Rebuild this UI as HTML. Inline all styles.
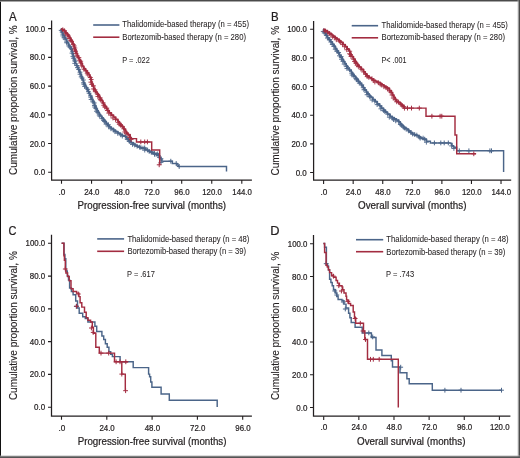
<!DOCTYPE html>
<html><head><meta charset="utf-8"><style>
html,body{margin:0;padding:0;background:#fff;}
svg{display:block;will-change:transform;}
text{font-family:"Liberation Sans", sans-serif;fill:#231f20;stroke:#231f20;stroke-width:0.22px;}
.lg{stroke-width:0.06px;}
.yl{stroke-width:0.12px;}
</style></head><body>
<svg width="520" height="458" viewBox="0 0 520 458">
<rect x="0" y="0" width="520" height="458" fill="#fff"/>

<g id="pA"><path d="M51.60 20.60 V180.00 H251.90" fill="none" stroke="#231f20" stroke-width="1.25"/>
<text x="34.10" y="175.30" font-size="8.5" textLength="11.10" lengthAdjust="spacingAndGlyphs">0.0</text>
<text x="29.85" y="146.57" font-size="8.5" textLength="15.35" lengthAdjust="spacingAndGlyphs">20.0</text>
<text x="29.85" y="117.84" font-size="8.5" textLength="15.35" lengthAdjust="spacingAndGlyphs">40.0</text>
<text x="29.85" y="89.11" font-size="8.5" textLength="15.35" lengthAdjust="spacingAndGlyphs">60.0</text>
<text x="29.85" y="60.38" font-size="8.5" textLength="15.35" lengthAdjust="spacingAndGlyphs">80.0</text>
<text x="25.60" y="31.65" font-size="8.5" textLength="19.60" lengthAdjust="spacingAndGlyphs">100.0</text>
<text x="58.38" y="194.60" font-size="8.5" textLength="6.85" lengthAdjust="spacingAndGlyphs">.0</text>
<text x="84.17" y="194.60" font-size="8.5" textLength="15.35" lengthAdjust="spacingAndGlyphs">24.0</text>
<text x="114.22" y="194.60" font-size="8.5" textLength="15.35" lengthAdjust="spacingAndGlyphs">48.0</text>
<text x="144.28" y="194.60" font-size="8.5" textLength="15.35" lengthAdjust="spacingAndGlyphs">72.0</text>
<text x="174.32" y="194.60" font-size="8.5" textLength="15.35" lengthAdjust="spacingAndGlyphs">96.0</text>
<text x="202.25" y="194.60" font-size="8.5" textLength="19.60" lengthAdjust="spacingAndGlyphs">120.0</text>
<text x="232.30" y="194.60" font-size="8.5" textLength="19.60" lengthAdjust="spacingAndGlyphs">144.0</text>
<path d="M48.10 172.30 H51.60 M48.10 143.57 H51.60 M48.10 114.84 H51.60 M48.10 86.11 H51.60 M48.10 57.38 H51.60 M48.10 28.65 H51.60 M61.50 180.00 V183.80 M91.55 180.00 V183.80 M121.60 180.00 V183.80 M151.65 180.00 V183.80 M181.70 180.00 V183.80 M211.75 180.00 V183.80 M241.80 180.00 V183.80" fill="none" stroke="#231f20" stroke-width="1.1"/>
<text x="9.10" y="21.00" font-size="12" textLength="7.70" lengthAdjust="spacingAndGlyphs">A</text>
<text x="77.60" y="208.60" font-size="10.2" textLength="148.40" lengthAdjust="spacingAndGlyphs">Progression-free survival (months)</text>
<text x="0" y="0" font-size="10.2" transform="translate(17.20,175.00) rotate(-90)" class="yl" textLength="149.70" lengthAdjust="spacingAndGlyphs">Cumulative proportion survival, %</text>
<path d="M93.20 25.00 H119.40" stroke="#4b6589" stroke-width="1.6"/>
<path d="M93.20 37.20 H119.40" stroke="#a32c40" stroke-width="1.6"/>
<text x="122.30" y="27.30" font-size="8.4" textLength="126.70" lengthAdjust="spacingAndGlyphs" class="lg">Thalidomide-based therapy (n = 455)</text>
<text x="122.30" y="40.00" font-size="8.4" textLength="123.70" lengthAdjust="spacingAndGlyphs" class="lg">Bortezomib-based therapy (n = 280)</text>
<text x="122.20" y="63.00" font-size="8.6" textLength="27.60" lengthAdjust="spacingAndGlyphs" class="lg">P = .022</text>
<path d="M162.30 161.20L172.30 161.20L172.30 163.50L176.90 163.50L176.90 165.00L178.50 165.00L178.50 166.50L226.50 166.50L226.50 171.50" fill="none" stroke="#4b6589" stroke-width="1.45" stroke-linecap="butt" stroke-linejoin="miter"/>
<path d="M61.50 28.60H61.95V30.45H62.40V32.30M62.40 32.30H63.25V33.85H64.10V35.40M64.10 35.40H65.20V37.35H66.30V39.30M66.30 39.30H67.15V41.05H68.00V42.80M68.00 42.80H69.10V44.75H70.20V46.70M70.20 46.70H71.30V48.90H72.40V51.10M72.40 51.10H73.05V53.25H73.70V55.40M73.70 55.40H74.35V57.60H75.00V59.80M75.00 59.80H75.45V61.55H75.90V63.30M75.90 63.30H77.05V65.15H78.20V67.00M78.20 67.00H79.10V69.20H80.00V71.40H80.90V73.60M80.90 73.60H81.63V75.77H82.37V77.93H83.10V80.10M83.10 80.10H84.00V81.93H84.90V83.77H85.80V85.60M85.80 85.60H86.73V87.40H87.67V89.20H88.60V91.00M88.60 91.00H89.50V92.83H90.40V94.67H91.30V96.50M91.30 96.50H92.27V98.60H93.23V100.70H94.20V102.80M94.20 102.80H95.05V104.67H95.90V106.55H96.75V108.42H97.60V110.30M97.60 110.30H98.70V112.10H99.80V113.90H100.90V115.70M100.90 115.70H102.37V117.53H103.83V119.37H105.30V121.20M105.30 121.20H106.77V123.03H108.23V124.87H109.70V126.70M109.70 126.70H111.85V128.30H114.00V129.90M114.00 129.90H116.20V131.30H118.40V132.70M118.40 132.70H120.60V134.05H122.80V135.40M122.80 135.40H125.50V136.50M125.50 136.50H127.10V138.50M127.10 138.50H129.30V140.40H131.50V142.30M131.50 142.30H133.70V143.75H135.90V145.20M135.90 145.20H138.10V146.30H140.30V147.40M140.30 147.40H142.20V147.65H144.10V147.90M144.10 147.90H146.00V149.00H147.90V150.10M147.90 150.10H150.10V151.20H152.30V152.30M152.30 152.30H154.50V153.10H156.70V153.90M156.70 153.90H159.40V155.60M159.40 155.60H160.20V157.20H161.00V158.80M161.00 158.80H162.30V161.20" fill="none" stroke="#4b6589" stroke-width="1.9" stroke-linejoin="round" transform="translate(-0.5 0.5)"/>
<path d="M59.27 29.89h4.80M61.67 27.49v4.80M60.24 31.62h4.80M62.64 29.22v4.80M60.91 33.64h4.80M63.31 31.24v4.80M60.99 35.41h4.80M63.39 33.01v4.80M62.06 37.24h4.80M64.46 34.84v4.80M63.21 38.65h4.80M65.61 36.25v4.80M64.63 41.57h4.80M67.03 39.17v4.80M65.00 42.36h4.80M67.40 39.96v4.80M66.90 45.47h4.80M69.30 43.07v4.80M67.92 46.53h4.80M70.32 44.13v4.80M69.66 48.17h4.80M72.06 45.77v4.80M70.57 50.76h4.80M72.97 48.36v4.80M70.08 52.64h4.80M72.48 50.24v4.80M70.99 55.91h4.80M73.39 53.51v4.80M71.44 57.73h4.80M73.84 55.33v4.80M72.82 59.60h4.80M75.22 57.20v4.80M73.13 60.85h4.80M75.53 58.45v4.80M72.80 62.83h4.80M75.20 60.43v4.80M74.94 65.03h4.80M77.34 62.63v4.80M75.50 67.14h4.80M77.90 64.74v4.80M76.63 68.88h4.80M79.03 66.48v4.80M78.07 71.72h4.80M80.47 69.32v4.80M78.09 73.72h4.80M80.49 71.32v4.80M79.27 76.37h4.80M81.67 73.97v4.80M80.33 77.59h4.80M82.73 75.19v4.80M81.47 79.49h4.80M83.87 77.09v4.80M81.47 82.34h4.80M83.87 79.94v4.80M81.94 83.75h4.80M84.34 81.35v4.80M82.66 85.87h4.80M85.06 83.47v4.80M84.76 87.52h4.80M87.16 85.12v4.80M85.87 88.90h4.80M88.27 86.50v4.80M86.51 91.15h4.80M88.91 88.75v4.80M87.23 92.76h4.80M89.63 90.36v4.80M88.54 95.38h4.80M90.94 92.98v4.80M88.86 96.76h4.80M91.26 94.36v4.80M89.16 98.92h4.80M91.56 96.52v4.80M91.07 101.49h4.80M93.47 99.09v4.80M92.32 102.46h4.80M94.72 100.06v4.80M92.47 104.94h4.80M94.87 102.54v4.80M92.74 106.49h4.80M95.14 104.09v4.80M93.82 107.81h4.80M96.22 105.41v4.80M94.49 110.73h4.80M96.89 108.33v4.80M95.71 111.70h4.80M98.11 109.30v4.80M97.23 114.49h4.80M99.63 112.09v4.80M97.83 115.62h4.80M100.23 113.22v4.80M100.05 118.15h4.80M102.45 115.75v4.80M101.94 119.95h4.80M104.34 117.55v4.80M102.55 121.06h4.80M104.95 118.66v4.80M104.14 123.65h4.80M106.54 121.25v4.80M106.57 124.31h4.80M108.97 121.91v4.80M106.78 126.27h4.80M109.18 123.87v4.80M109.02 128.28h4.80M111.42 125.88v4.80M111.74 129.52h4.80M114.14 127.12v4.80M113.01 131.17h4.80M115.41 128.77v4.80M115.79 132.81h4.80M118.19 130.41v4.80M118.92 134.35h4.80M121.32 131.95v4.80M120.42 135.59h4.80M122.82 133.19v4.80M123.38 135.79h4.80M125.78 133.39v4.80M125.34 138.95h4.80M127.74 136.55v4.80M127.50 140.88h4.80M129.90 138.48v4.80M128.93 142.14h4.80M131.33 139.74v4.80M130.67 143.96h4.80M133.07 141.56v4.80M132.80 144.51h4.80M135.20 142.11v4.80M135.23 145.76h4.80M137.63 143.36v4.80M137.64 146.68h4.80M140.04 144.28v4.80M139.00 147.09h4.80M141.40 144.69v4.80M141.06 147.68h4.80M143.46 145.28v4.80M142.84 149.60h4.80M145.24 147.20v4.80M145.68 149.54h4.80M148.08 147.14v4.80M147.30 150.96h4.80M149.70 148.56v4.80M149.68 151.70h4.80M152.08 149.30v4.80M152.66 153.89h4.80M155.06 151.49v4.80M154.25 153.87h4.80M156.65 151.47v4.80M156.34 154.96h4.80M158.74 152.56v4.80M157.55 156.82h4.80M159.95 154.42v4.80M159.13 158.26h4.80M161.53 155.86v4.80M159.14 161.92h4.80M161.54 159.52v4.80" fill="none" stroke="#4b6589" stroke-width="1.0" opacity="0.9" transform="translate(-0.5 0.5)"/>
<path d="M142.30 147.90h4.8M144.70 145.50v4.8M148.80 152.00h4.8M151.20 149.60v4.8M152.10 153.50h4.8M154.50 151.10v4.8M155.30 153.90h4.8M157.70 151.50v4.8M168.40 161.20h4.8M170.80 158.80v4.8M173.80 163.50h4.8M176.20 161.10v4.8M176.80 166.50h4.8M179.20 164.10v4.8" fill="none" stroke="#4b6589" stroke-width="1.0"/>
<path d="M131.50 138.60L136.50 138.60L136.50 141.90L151.70 141.90L151.70 149.90L159.70 149.90L159.70 164.80" fill="none" stroke="#a32c40" stroke-width="1.45" stroke-linecap="butt" stroke-linejoin="miter"/>
<path d="M61.50 28.60H63.25V29.80H65.00V31.00M65.00 31.00H66.30V32.50H67.60V34.00M67.60 34.00H68.90V35.75H70.20V37.50M70.20 37.50H71.30V39.50H72.40V41.50M72.40 41.50H73.30V43.25H74.20V45.00M74.20 45.00H74.85V47.15H75.50V49.30M75.50 49.30H76.35V51.40H77.20V53.50M77.20 53.50H77.93V55.33H78.67V57.17H79.40V59.00M79.40 59.00H80.50V61.00H81.60V63.00M81.60 63.00H82.80V65.90M82.80 65.90H84.30V68.10H85.80V70.30M85.80 70.30H87.45V72.20H89.10V74.10M89.10 74.10H90.20V76.55H91.30V79.00M91.30 79.00H91.85V81.20H92.40V83.40M92.40 83.40H93.30V85.57H94.20V87.73H95.10V89.90M95.10 89.90H96.37V91.73H97.63V93.57H98.90V95.40M98.90 95.40H99.93V97.10H100.97V98.80H102.00V100.50M102.00 100.50H103.10V102.30H104.20V104.10H105.30V105.90M105.30 105.90H106.77V108.10H108.23V110.30H109.70V112.50M109.70 112.50H111.85V114.65H114.00V116.80M114.00 116.80H116.20V119.00H118.40V121.20M118.40 121.20H119.87V123.03H121.33V124.87H122.80V126.70M122.80 126.70H124.40V128.85H126.00V131.00M126.00 131.00H127.15V132.65H128.30V134.30M128.30 134.30H130.50V137.00M130.50 137.00H131.50V138.60" fill="none" stroke="#a32c40" stroke-width="1.9" stroke-linejoin="round" transform="translate(-0.5 0.5)"/>
<path d="M60.90 29.23h4.80M63.30 26.83v4.80M62.67 30.24h4.80M65.07 27.84v4.80M63.94 33.27h4.80M66.34 30.87v4.80M65.78 34.31h4.80M68.18 31.91v4.80M66.12 35.54h4.80M68.52 33.14v4.80M67.27 37.94h4.80M69.67 35.54v4.80M68.95 39.95h4.80M71.35 37.55v4.80M69.73 41.06h4.80M72.13 38.66v4.80M71.40 44.03h4.80M73.80 41.63v4.80M72.36 45.49h4.80M74.76 43.09v4.80M72.96 47.53h4.80M75.36 45.13v4.80M72.66 49.33h4.80M75.06 46.93v4.80M73.72 50.65h4.80M76.12 48.25v4.80M74.04 53.15h4.80M76.44 50.75v4.80M75.15 55.64h4.80M77.55 53.24v4.80M77.00 57.08h4.80M79.40 54.68v4.80M77.70 59.78h4.80M80.10 57.38v4.80M78.83 60.78h4.80M81.23 58.38v4.80M78.75 62.56h4.80M81.15 60.16v4.80M79.91 65.43h4.80M82.31 63.03v4.80M82.10 68.74h4.80M84.50 66.34v4.80M83.94 70.27h4.80M86.34 67.87v4.80M85.29 72.68h4.80M87.69 70.28v4.80M86.04 74.36h4.80M88.44 71.96v4.80M88.46 77.00h4.80M90.86 74.60v4.80M89.30 78.96h4.80M91.70 76.56v4.80M88.94 81.66h4.80M91.34 79.26v4.80M89.73 83.88h4.80M92.13 81.48v4.80M91.65 85.40h4.80M94.05 83.00v4.80M91.64 88.45h4.80M94.04 86.05v4.80M93.06 89.37h4.80M95.46 86.97v4.80M93.37 91.18h4.80M95.77 88.78v4.80M95.88 94.06h4.80M98.28 91.66v4.80M95.93 95.92h4.80M98.33 93.52v4.80M98.30 97.35h4.80M100.70 94.95v4.80M98.33 98.88h4.80M100.73 96.48v4.80M99.01 99.72h4.80M101.41 97.32v4.80M101.45 102.54h4.80M103.85 100.14v4.80M101.84 104.79h4.80M104.24 102.39v4.80M102.79 106.49h4.80M105.19 104.09v4.80M104.89 107.64h4.80M107.29 105.24v4.80M105.44 109.97h4.80M107.84 107.57v4.80M106.88 112.64h4.80M109.28 110.24v4.80M109.06 114.52h4.80M111.46 112.12v4.80M111.01 117.46h4.80M113.41 115.06v4.80M113.57 118.93h4.80M115.97 116.53v4.80M116.13 121.85h4.80M118.53 119.45v4.80M117.34 123.70h4.80M119.74 121.30v4.80M118.94 124.92h4.80M121.34 122.52v4.80M120.44 125.93h4.80M122.84 123.53v4.80M121.90 128.34h4.80M124.30 125.94v4.80M122.81 131.48h4.80M125.21 129.08v4.80M124.23 132.61h4.80M126.63 130.21v4.80M126.26 134.39h4.80M128.66 131.99v4.80M127.82 137.03h4.80M130.22 134.63v4.80M129.19 139.05h4.80M131.59 136.65v4.80" fill="none" stroke="#a32c40" stroke-width="1.0" opacity="0.9" transform="translate(-0.5 0.5)"/>
<path d="M138.40 141.90h4.8M140.80 139.50v4.8M142.30 141.90h4.8M144.70 139.50v4.8M145.00 141.90h4.8M147.40 139.50v4.8M156.80 164.80h4.8M159.20 162.40v4.8" fill="none" stroke="#a32c40" stroke-width="1.0"/></g>
<g id="pB"><path d="M313.60 21.10 V180.10 H511.20" fill="none" stroke="#231f20" stroke-width="1.25"/>
<text x="295.70" y="175.50" font-size="8.5" textLength="11.10" lengthAdjust="spacingAndGlyphs">0.0</text>
<text x="291.45" y="146.84" font-size="8.5" textLength="15.35" lengthAdjust="spacingAndGlyphs">20.0</text>
<text x="291.45" y="118.18" font-size="8.5" textLength="15.35" lengthAdjust="spacingAndGlyphs">40.0</text>
<text x="291.45" y="89.52" font-size="8.5" textLength="15.35" lengthAdjust="spacingAndGlyphs">60.0</text>
<text x="291.45" y="60.86" font-size="8.5" textLength="15.35" lengthAdjust="spacingAndGlyphs">80.0</text>
<text x="287.20" y="32.20" font-size="8.5" textLength="19.60" lengthAdjust="spacingAndGlyphs">100.0</text>
<text x="320.48" y="194.60" font-size="8.5" textLength="6.85" lengthAdjust="spacingAndGlyphs">.0</text>
<text x="345.80" y="194.60" font-size="8.5" textLength="15.35" lengthAdjust="spacingAndGlyphs">24.0</text>
<text x="375.37" y="194.60" font-size="8.5" textLength="15.35" lengthAdjust="spacingAndGlyphs">48.0</text>
<text x="404.94" y="194.60" font-size="8.5" textLength="15.35" lengthAdjust="spacingAndGlyphs">72.0</text>
<text x="434.50" y="194.60" font-size="8.5" textLength="15.35" lengthAdjust="spacingAndGlyphs">96.0</text>
<text x="461.95" y="194.60" font-size="8.5" textLength="19.60" lengthAdjust="spacingAndGlyphs">120.0</text>
<text x="491.52" y="194.60" font-size="8.5" textLength="19.60" lengthAdjust="spacingAndGlyphs">144.0</text>
<path d="M310.10 172.50 H313.60 M310.10 143.84 H313.60 M310.10 115.18 H313.60 M310.10 86.52 H313.60 M310.10 57.86 H313.60 M310.10 29.20 H313.60 M323.60 180.10 V183.90 M353.17 180.10 V183.90 M382.74 180.10 V183.90 M412.31 180.10 V183.90 M441.88 180.10 V183.90 M471.45 180.10 V183.90 M501.02 180.10 V183.90" fill="none" stroke="#231f20" stroke-width="1.1"/>
<text x="270.90" y="20.80" font-size="12" textLength="7.64" lengthAdjust="spacingAndGlyphs">B</text>
<text x="358.10" y="208.70" font-size="10.2" textLength="108.30" lengthAdjust="spacingAndGlyphs">Overall survival (months)</text>
<text x="0" y="0" font-size="10.2" transform="translate(279.40,175.50) rotate(-90)" class="yl" textLength="149.60" lengthAdjust="spacingAndGlyphs">Cumulative proportion survival, %</text>
<path d="M351.70 25.70 H378.10" stroke="#4b6589" stroke-width="1.6"/>
<path d="M351.70 37.80 H378.10" stroke="#a32c40" stroke-width="1.6"/>
<text x="381.60" y="28.20" font-size="8.4" textLength="126.30" lengthAdjust="spacingAndGlyphs" class="lg">Thalidomide-based therapy (n = 455)</text>
<text x="381.60" y="40.30" font-size="8.4" textLength="123.40" lengthAdjust="spacingAndGlyphs" class="lg">Bortezomib-based therapy (n = 280)</text>
<text x="381.50" y="63.40" font-size="8.6" textLength="24.90" lengthAdjust="spacingAndGlyphs" class="lg">P< .001</text>
<path d="M426.90 141.20L430.40 141.20L430.40 142.90L450.60 142.90M454.10 147.20L456.70 147.20L456.70 150.80L503.60 150.80L503.60 172.00" fill="none" stroke="#4b6589" stroke-width="1.45" stroke-linecap="butt" stroke-linejoin="miter"/>
<path d="M323.60 29.00H324.35V30.85H325.10V32.70M325.10 32.70H326.45V34.90H327.80V37.10M327.80 37.10H329.45V39.30H331.10V41.50M331.10 41.50H332.75V43.65H334.40V45.80M334.40 45.80H335.75V48.00H337.10V50.20M337.10 50.20H338.45V52.40H339.80V54.60M339.80 54.60H341.20V56.75H342.60V58.90M342.60 58.90H343.95V61.10H345.30V63.30M345.30 63.30H346.65V65.50H348.00V67.70M348.00 67.70H349.80V69.85H351.60V72.00M351.60 72.00H353.03V73.83H354.47V75.67H355.90V77.50M355.90 77.50H357.37V79.30H358.83V81.10H360.30V82.90M360.30 82.90H361.95V85.10H363.60V87.30M363.60 87.30H365.20V89.50H366.80V91.70M366.80 91.70H368.27V93.43H369.73V95.17H371.20V96.90M371.20 96.90H373.40V99.10H375.60V101.30M375.60 101.30H377.75V103.45H379.90V105.60M379.90 105.60H381.95V107.65H384.00V109.70M384.00 109.70H385.95V111.75H387.90V113.80M387.90 113.80H390.50V116.00M390.50 116.00H392.63V117.27H394.77V118.53H396.90V119.80M396.90 119.80H399.20V121.50M399.20 121.50H400.73V123.33H402.27V125.17H403.80V127.00M403.80 127.00H405.55V128.00H407.30V129.00M407.30 129.00H409.23V130.67H411.17V132.33H413.10V134.00M413.10 134.00H415.40V134.70H417.70V135.40M417.70 135.40H419.45V136.55H421.20V137.70M421.20 137.70H422.90V138.25H424.60V138.80M424.60 138.80H426.90V141.20M450.60 142.90H452.30V145.40M452.30 145.40H454.10V147.20" fill="none" stroke="#4b6589" stroke-width="1.9" stroke-linejoin="round" transform="translate(-0.5 0.5)"/>
<path d="M321.32 30.95h4.80M323.72 28.55v4.80M322.30 32.34h4.80M324.70 29.94v4.80M324.49 34.91h4.80M326.89 32.51v4.80M325.50 37.52h4.80M327.90 35.12v4.80M327.71 39.21h4.80M330.11 36.81v4.80M328.88 41.51h4.80M331.28 39.11v4.80M330.37 43.96h4.80M332.77 41.56v4.80M331.92 45.85h4.80M334.32 43.45v4.80M333.31 48.71h4.80M335.71 46.31v4.80M335.02 50.80h4.80M337.42 48.40v4.80M336.76 52.02h4.80M339.16 49.62v4.80M337.50 55.31h4.80M339.90 52.91v4.80M339.34 56.17h4.80M341.74 53.77v4.80M339.59 58.81h4.80M341.99 56.41v4.80M340.87 60.69h4.80M343.27 58.29v4.80M342.22 63.57h4.80M344.62 61.17v4.80M344.70 66.14h4.80M347.10 63.74v4.80M345.05 68.05h4.80M347.45 65.65v4.80M347.66 69.28h4.80M350.06 66.88v4.80M349.81 72.75h4.80M352.21 70.35v4.80M350.18 74.56h4.80M352.58 72.16v4.80M351.90 75.65h4.80M354.30 73.25v4.80M354.28 78.03h4.80M356.68 75.63v4.80M354.43 79.19h4.80M356.83 76.79v4.80M356.46 80.84h4.80M358.86 78.44v4.80M357.41 82.61h4.80M359.81 80.21v4.80M359.91 84.33h4.80M362.31 81.93v4.80M361.29 87.20h4.80M363.69 84.80v4.80M362.03 89.23h4.80M364.43 86.83v4.80M364.60 91.72h4.80M367.00 89.32v4.80M365.17 94.21h4.80M367.57 91.81v4.80M367.79 95.92h4.80M370.19 93.52v4.80M368.17 96.52h4.80M370.57 94.12v4.80M370.26 99.55h4.80M372.66 97.15v4.80M372.83 100.71h4.80M375.23 98.31v4.80M375.23 104.11h4.80M377.63 101.71v4.80M378.01 105.21h4.80M380.41 102.81v4.80M378.99 108.32h4.80M381.39 105.92v4.80M381.71 110.02h4.80M384.11 107.62v4.80M382.89 111.04h4.80M385.29 108.64v4.80M385.80 113.68h4.80M388.20 111.28v4.80M387.42 116.70h4.80M389.82 114.30v4.80M390.45 117.75h4.80M392.85 115.35v4.80M391.70 119.10h4.80M394.10 116.70v4.80M393.81 120.38h4.80M396.21 117.98v4.80M396.73 121.24h4.80M399.13 118.84v4.80M398.42 124.02h4.80M400.82 121.62v4.80M399.50 124.57h4.80M401.90 122.17v4.80M401.44 126.58h4.80M403.84 124.18v4.80M402.53 127.46h4.80M404.93 125.06v4.80M404.18 128.52h4.80M406.58 126.12v4.80M406.53 130.35h4.80M408.93 127.95v4.80M409.18 132.00h4.80M411.58 129.60v4.80M410.70 133.48h4.80M413.10 131.08v4.80M412.76 133.93h4.80M415.16 131.53v4.80M414.90 134.62h4.80M417.30 132.22v4.80M417.42 136.63h4.80M419.82 134.23v4.80M418.30 137.66h4.80M420.70 135.26v4.80M421.20 137.62h4.80M423.60 135.22v4.80M422.71 138.69h4.80M425.11 136.29v4.80M424.49 141.74h4.80M426.89 139.34v4.80M449.73 145.41h4.80M452.13 143.01v4.80M452.00 147.97h4.80M454.40 145.57v4.80" fill="none" stroke="#4b6589" stroke-width="1.0" opacity="0.9" transform="translate(-0.5 0.5)"/>
<path d="M432.00 142.90h4.8M434.40 140.50v4.8M438.40 142.90h4.8M440.80 140.50v4.8M441.80 142.90h4.8M444.20 140.50v4.8M445.90 142.90h4.8M448.30 140.50v4.8M456.90 150.80h4.8M459.30 148.40v4.8M466.50 150.80h4.8M468.90 148.40v4.8M487.50 150.80h4.8M489.90 148.40v4.8M489.10 150.80h4.8M491.50 148.40v4.8" fill="none" stroke="#4b6589" stroke-width="1.0"/>
<path d="M404.60 108.10L426.00 108.10L426.00 116.20L455.00 116.20L455.00 134.90L456.70 134.90L456.70 153.80L476.00 153.80" fill="none" stroke="#a32c40" stroke-width="1.45" stroke-linecap="butt" stroke-linejoin="miter"/>
<path d="M323.60 29.00H325.70V30.30H327.80V31.60M327.80 31.60H330.00V33.25H332.20V34.90M332.20 34.90H333.97V36.17H335.73V37.43H337.50V38.70M337.50 38.70H339.40V40.35H341.30V42.00M341.30 42.00H343.50V44.15H345.70V46.30M345.70 46.30H347.60V48.50H349.50V50.70M349.50 50.70H350.43V52.53H351.37V54.37H352.30V56.20M352.30 56.20H353.90V58.60H355.50V61.00M355.50 61.00H356.87V62.90H358.23V64.80H359.60V66.70M359.60 66.70H361.80V69.05H364.00V71.40M364.00 71.40H365.65V73.45H367.30V75.50M367.30 75.50H369.50V77.15H371.70V78.80M371.70 78.80H373.90V79.90H376.10V81.00M376.10 81.00H378.25V82.05H380.40V83.10M380.40 83.10H382.40V84.40H384.40V85.70M384.40 85.70H386.15V86.70H387.90V87.70M387.90 87.70H389.85V90.10H391.80V92.50M391.80 92.50H393.10V94.75H394.40V97.00M394.40 97.00H395.70V99.00H397.00V101.00M397.00 101.00H399.00V102.30H401.00V103.60M401.00 103.60H402.60V105.20H404.20V106.80M404.20 106.80H404.60V108.10" fill="none" stroke="#a32c40" stroke-width="1.9" stroke-linejoin="round" transform="translate(-0.5 0.5)"/>
<path d="M323.05 30.83h4.80M325.45 28.43v4.80M325.73 31.82h4.80M328.13 29.42v4.80M327.45 33.01h4.80M329.85 30.61v4.80M329.09 34.31h4.80M331.49 31.91v4.80M330.88 36.55h4.80M333.28 34.15v4.80M332.94 36.89h4.80M335.34 34.49v4.80M334.44 39.25h4.80M336.84 36.85v4.80M337.59 40.62h4.80M339.99 38.22v4.80M338.55 41.59h4.80M340.95 39.19v4.80M340.77 44.09h4.80M343.17 41.69v4.80M342.75 46.21h4.80M345.15 43.81v4.80M344.82 49.24h4.80M347.22 46.84v4.80M347.86 50.78h4.80M350.26 48.38v4.80M347.62 53.28h4.80M350.02 50.88v4.80M348.66 54.14h4.80M351.06 51.74v4.80M349.10 56.01h4.80M351.50 53.61v4.80M351.46 58.60h4.80M353.86 56.20v4.80M352.62 61.01h4.80M355.02 58.61v4.80M353.67 62.52h4.80M356.07 60.12v4.80M355.18 64.64h4.80M357.58 62.24v4.80M356.47 65.94h4.80M358.87 63.54v4.80M359.09 68.62h4.80M361.49 66.22v4.80M361.74 71.45h4.80M364.14 69.05v4.80M363.65 73.70h4.80M366.05 71.30v4.80M365.25 76.11h4.80M367.65 73.71v4.80M366.92 76.87h4.80M369.32 74.47v4.80M370.08 78.24h4.80M372.48 75.84v4.80M371.86 80.13h4.80M374.26 77.73v4.80M372.97 81.54h4.80M375.37 79.14v4.80M376.48 82.25h4.80M378.88 79.85v4.80M378.37 83.60h4.80M380.77 81.20v4.80M379.42 84.44h4.80M381.82 82.04v4.80M382.01 86.24h4.80M384.41 83.84v4.80M384.24 87.22h4.80M386.64 84.82v4.80M385.63 88.33h4.80M388.03 85.93v4.80M387.74 90.41h4.80M390.14 88.01v4.80M388.97 91.75h4.80M391.37 89.35v4.80M390.11 94.53h4.80M392.51 92.13v4.80M391.37 97.54h4.80M393.77 95.14v4.80M393.39 99.20h4.80M395.79 96.80v4.80M394.80 101.29h4.80M397.20 98.89v4.80M396.58 101.51h4.80M398.98 99.11v4.80M399.08 104.00h4.80M401.48 101.60v4.80M400.20 105.26h4.80M402.60 102.86v4.80M402.05 106.11h4.80M404.45 103.71v4.80M402.58 107.70h4.80M404.98 105.30v4.80" fill="none" stroke="#a32c40" stroke-width="1.0" opacity="0.9" transform="translate(-0.5 0.5)"/>
<path d="M405.10 108.10h4.8M407.50 105.70v4.8M409.10 108.10h4.8M411.50 105.70v4.8M416.90 108.10h4.8M419.30 105.70v4.8M429.50 116.20h4.8M431.90 113.80v4.8M437.70 116.20h4.8M440.10 113.80v4.8M439.40 116.20h4.8M441.80 113.80v4.8M471.40 153.80h4.8M473.80 151.40v4.8" fill="none" stroke="#a32c40" stroke-width="1.0"/></g>
<g id="pC"><path d="M51.50 234.70 V416.00 H251.90" fill="none" stroke="#231f20" stroke-width="1.25"/>
<text x="34.10" y="410.20" font-size="8.5" textLength="11.10" lengthAdjust="spacingAndGlyphs">0.0</text>
<text x="29.85" y="377.42" font-size="8.5" textLength="15.35" lengthAdjust="spacingAndGlyphs">20.0</text>
<text x="29.85" y="344.64" font-size="8.5" textLength="15.35" lengthAdjust="spacingAndGlyphs">40.0</text>
<text x="29.85" y="311.86" font-size="8.5" textLength="15.35" lengthAdjust="spacingAndGlyphs">60.0</text>
<text x="29.85" y="279.08" font-size="8.5" textLength="15.35" lengthAdjust="spacingAndGlyphs">80.0</text>
<text x="25.60" y="246.30" font-size="8.5" textLength="19.60" lengthAdjust="spacingAndGlyphs">100.0</text>
<text x="58.38" y="430.60" font-size="8.5" textLength="6.85" lengthAdjust="spacingAndGlyphs">.0</text>
<text x="99.42" y="430.60" font-size="8.5" textLength="15.35" lengthAdjust="spacingAndGlyphs">24.0</text>
<text x="144.72" y="430.60" font-size="8.5" textLength="15.35" lengthAdjust="spacingAndGlyphs">48.0</text>
<text x="190.02" y="430.60" font-size="8.5" textLength="15.35" lengthAdjust="spacingAndGlyphs">72.0</text>
<text x="235.32" y="430.60" font-size="8.5" textLength="15.35" lengthAdjust="spacingAndGlyphs">96.0</text>
<path d="M48.00 407.20 H51.50 M48.00 374.42 H51.50 M48.00 341.64 H51.50 M48.00 308.86 H51.50 M48.00 276.08 H51.50 M48.00 243.30 H51.50 M61.50 416.00 V419.80 M106.80 416.00 V419.80 M152.10 416.00 V419.80 M197.40 416.00 V419.80 M242.70 416.00 V419.80" fill="none" stroke="#231f20" stroke-width="1.1"/>
<text x="8.62" y="235.00" font-size="12" textLength="7.92" lengthAdjust="spacingAndGlyphs">C</text>
<text x="77.70" y="445.10" font-size="10.2" textLength="148.80" lengthAdjust="spacingAndGlyphs">Progression-free survival (months)</text>
<text x="0" y="0" font-size="10.2" transform="translate(17.30,400.10) rotate(-90)" class="yl" textLength="148.90" lengthAdjust="spacingAndGlyphs">Cumulative proportion survival, %</text>
<path d="M97.20 238.90 H124.10" stroke="#4b6589" stroke-width="1.6"/>
<path d="M97.20 251.30 H124.10" stroke="#a32c40" stroke-width="1.6"/>
<text x="127.40" y="241.50" font-size="8.4" textLength="122.00" lengthAdjust="spacingAndGlyphs" class="lg">Thalidomide-based therapy (n = 48)</text>
<text x="127.40" y="253.90" font-size="8.4" textLength="118.60" lengthAdjust="spacingAndGlyphs" class="lg">Bortezomib-based therapy (n = 39)</text>
<text x="127.00" y="276.90" font-size="8.6" textLength="27.80" lengthAdjust="spacingAndGlyphs" class="lg">P = .617</text>
<path d="M61.60 243.20L64.00 243.20L64.00 254.40L64.90 254.40L64.90 258.60L65.80 258.60L65.80 271.00L67.30 271.00L67.30 276.00L68.50 276.00L68.50 280.00L69.60 280.00L69.60 287.90L71.40 287.90L71.40 291.40L73.10 291.40L73.10 294.80L75.70 294.80L75.70 301.00L77.50 301.00L77.50 307.90L79.20 307.90L79.20 313.20L82.70 313.20L82.70 316.70L85.30 316.70L85.30 318.40L87.90 318.40L87.90 321.90L94.90 321.90L94.90 326.30L96.70 326.30L96.70 331.50L101.90 331.50L101.90 335.90L103.70 335.90L103.70 339.40L105.40 339.40L105.40 343.80L107.20 343.80L107.20 347.20L108.90 347.20L108.90 351.60L110.70 351.60L110.70 354.20L112.40 354.20L112.40 356.60L120.10 356.60L120.10 361.80L133.20 361.80L133.20 367.60L148.60 367.60L148.60 374.10L149.60 374.10L149.60 376.70L150.70 376.70L150.70 381.90L151.90 381.90L151.90 387.20L161.10 387.20L161.10 394.00L169.30 394.00L169.30 400.30L217.20 400.30L217.20 406.90" fill="none" stroke="#4b6589" stroke-width="1.45" stroke-linecap="butt" stroke-linejoin="miter"/>
<path d="M73.90 306.40h4.8M76.30 304.00v4.8" fill="none" stroke="#4b6589" stroke-width="1.0"/>
<path d="M61.60 243.20L63.90 243.20L63.90 255.70L64.40 255.70L64.40 260.30L65.30 260.30L65.30 269.00L65.90 269.00L65.90 273.00L67.60 273.00L67.60 276.40L69.20 276.40L69.20 280.70L71.00 280.70L71.00 288.70L73.10 288.70L73.10 291.40L76.60 291.40L76.60 293.10L78.90 293.10L78.90 296.60L80.10 296.60L80.10 302.70L81.80 302.70L81.80 307.10L84.50 307.10L84.50 312.30L86.20 312.30L86.20 317.60L87.90 317.60L87.90 320.20L90.60 320.20L90.60 321.90L92.30 321.90L92.30 327.20L93.40 327.20L93.40 333.30L95.80 333.30L95.80 347.20L99.30 347.20L99.30 353.10L114.50 353.10L114.50 361.80L121.80 361.80L121.80 374.10L125.30 374.10L125.30 390.70" fill="none" stroke="#a32c40" stroke-width="1.45" stroke-linecap="butt" stroke-linejoin="miter"/>
<path d="M121.80 361.80L128.20 361.80" fill="none" stroke="#a32c40" stroke-width="1.45"/>
<path d="M123.40 361.80h4.8M125.80 359.40v4.8M113.70 361.80h4.8M116.10 359.40v4.8M117.60 361.80h4.8M120.00 359.40v4.8M62.90 269.00h4.8M65.30 266.60v4.8M75.90 294.00h4.8M78.30 291.60v4.8M74.20 306.20h4.8M76.60 303.80v4.8M89.00 328.00h4.8M91.40 325.60v4.8M90.80 332.40h4.8M93.20 330.00v4.8M106.30 353.10h4.8M108.70 350.70v4.8M98.60 353.10h4.8M101.00 350.70v4.8M119.40 374.10h4.8M121.80 371.70v4.8M123.20 390.70h4.8M125.60 388.30v4.8" fill="none" stroke="#a32c40" stroke-width="1.0"/></g>
<g id="pD"><path d="M313.50 235.10 V416.20 H510.40" fill="none" stroke="#231f20" stroke-width="1.25"/>
<text x="296.30" y="410.50" font-size="8.5" textLength="11.10" lengthAdjust="spacingAndGlyphs">0.0</text>
<text x="292.05" y="377.76" font-size="8.5" textLength="15.35" lengthAdjust="spacingAndGlyphs">20.0</text>
<text x="292.05" y="345.02" font-size="8.5" textLength="15.35" lengthAdjust="spacingAndGlyphs">40.0</text>
<text x="292.05" y="312.28" font-size="8.5" textLength="15.35" lengthAdjust="spacingAndGlyphs">60.0</text>
<text x="292.05" y="279.54" font-size="8.5" textLength="15.35" lengthAdjust="spacingAndGlyphs">80.0</text>
<text x="287.80" y="246.80" font-size="8.5" textLength="19.60" lengthAdjust="spacingAndGlyphs">100.0</text>
<text x="320.57" y="430.40" font-size="8.5" textLength="6.85" lengthAdjust="spacingAndGlyphs">.0</text>
<text x="351.46" y="430.40" font-size="8.5" textLength="15.35" lengthAdjust="spacingAndGlyphs">24.0</text>
<text x="386.61" y="430.40" font-size="8.5" textLength="15.35" lengthAdjust="spacingAndGlyphs">48.0</text>
<text x="421.75" y="430.40" font-size="8.5" textLength="15.35" lengthAdjust="spacingAndGlyphs">72.0</text>
<text x="456.88" y="430.40" font-size="8.5" textLength="15.35" lengthAdjust="spacingAndGlyphs">96.0</text>
<text x="489.90" y="430.40" font-size="8.5" textLength="19.60" lengthAdjust="spacingAndGlyphs">120.0</text>
<path d="M310.00 407.50 H313.50 M310.00 374.76 H313.50 M310.00 342.02 H313.50 M310.00 309.28 H313.50 M310.00 276.54 H313.50 M310.00 243.80 H313.50 M323.70 416.20 V420.00 M358.84 416.20 V420.00 M393.98 416.20 V420.00 M429.12 416.20 V420.00 M464.26 416.20 V420.00 M499.40 416.20 V420.00" fill="none" stroke="#231f20" stroke-width="1.1"/>
<text x="270.16" y="234.80" font-size="12" textLength="9.29" lengthAdjust="spacingAndGlyphs">D</text>
<text x="357.10" y="444.60" font-size="10.2" textLength="108.30" lengthAdjust="spacingAndGlyphs">Overall survival (months)</text>
<text x="0" y="0" font-size="10.2" transform="translate(278.80,400.10) rotate(-90)" class="yl" textLength="148.50" lengthAdjust="spacingAndGlyphs">Cumulative proportion survival, %</text>
<path d="M356.00 239.70 H383.20" stroke="#4b6589" stroke-width="1.6"/>
<path d="M356.00 251.70 H383.20" stroke="#a32c40" stroke-width="1.6"/>
<text x="386.30" y="242.10" font-size="8.4" textLength="122.40" lengthAdjust="spacingAndGlyphs" class="lg">Thalidomide-based therapy (n = 48)</text>
<text x="386.30" y="254.50" font-size="8.4" textLength="119.10" lengthAdjust="spacingAndGlyphs" class="lg">Bortezomib-based therapy (n = 39)</text>
<text x="386.00" y="276.90" font-size="8.6" textLength="28.10" lengthAdjust="spacingAndGlyphs" class="lg">P = .743</text>
<path d="M323.40 243.40L324.60 243.40L324.60 247.20L326.40 247.20L326.40 263.70L327.50 263.70L327.50 266.00L328.50 266.00L328.50 270.00L329.60 270.00L329.60 279.20L330.90 279.20L330.90 282.50L332.20 282.50L332.20 285.70L333.50 285.70L333.50 289.70L335.50 289.70L335.50 292.90L336.80 292.90L336.80 296.20L338.10 296.20L338.10 299.50L342.00 299.50L342.00 300.80L344.00 300.80L344.00 304.10L346.00 304.10L346.00 308.00L348.60 308.00L348.60 313.20L349.90 313.20L349.90 317.80L351.20 317.80L351.20 322.40L355.10 322.40L355.10 327.20L362.20 327.20L362.20 332.90L371.40 332.90L371.40 337.50L376.00 337.50L376.00 350.00L381.90 350.00L381.90 355.50L391.30 355.50L391.30 360.80L392.50 360.80L392.50 367.00L400.00 367.00L400.00 372.80L406.90 372.80L406.90 378.80L409.20 378.80L409.20 383.80L432.30 383.80L432.30 390.20L501.50 390.20" fill="none" stroke="#4b6589" stroke-width="1.45" stroke-linecap="butt" stroke-linejoin="miter"/>
<path d="M323.80 263.70h4.8M326.20 261.30v4.8M332.40 291.00h4.8M334.80 288.60v4.8M334.40 295.00h4.8M336.80 292.60v4.8M340.90 302.00h4.8M343.30 299.60v4.8M342.90 309.00h4.8M345.30 306.60v4.8M366.40 332.90h4.8M368.80 330.50v4.8M370.30 336.90h4.8M372.70 334.50v4.8M398.30 367.20h4.8M400.70 364.80v4.8M442.50 390.20h4.8M444.90 387.80v4.8M458.60 390.20h4.8M461.00 387.80v4.8M499.10 390.20h4.8M501.50 387.80v4.8" fill="none" stroke="#4b6589" stroke-width="1.0"/>
<path d="M323.40 243.40L324.60 243.40L324.60 252.40L326.10 252.40L326.10 265.30L327.30 265.30L327.30 266.90L328.40 266.90L328.40 269.70L329.60 269.70L329.60 272.60L331.60 272.60L331.60 275.20L333.50 275.20L333.50 277.20L336.10 277.20L336.10 280.50L337.50 280.50L337.50 283.10L339.40 283.10L339.40 285.70L342.00 285.70L342.00 287.00L342.70 287.00L342.70 289.70L344.00 289.70L344.00 292.90L346.00 292.90L346.00 296.20L346.60 296.20L346.60 300.10L348.60 300.10L348.60 303.40L350.60 303.40L350.60 305.40L353.20 305.40L353.20 311.90L354.50 311.90L354.50 317.80L355.70 317.80L355.70 323.30L363.50 323.30L363.50 331.00L364.80 331.00L364.80 339.50L367.50 339.50L367.50 359.30L398.30 359.30L398.30 407.40" fill="none" stroke="#a32c40" stroke-width="1.45" stroke-linecap="butt" stroke-linejoin="miter"/>
<path d="M331.10 276.20h4.8M333.50 273.80v4.8M336.40 285.70h4.8M338.80 283.30v4.8M339.00 291.00h4.8M341.40 288.60v4.8M345.50 301.40h4.8M347.90 299.00v4.8M352.70 318.50h4.8M355.10 316.10v4.8M357.90 323.30h4.8M360.30 320.90v4.8M360.60 331.00h4.8M363.00 328.60v4.8M363.10 339.50h4.8M365.50 337.10v4.8M368.10 359.30h4.8M370.50 356.90v4.8M370.90 359.30h4.8M373.30 356.90v4.8M376.80 359.30h4.8M379.20 356.90v4.8" fill="none" stroke="#a32c40" stroke-width="1.0"/></g>
<path d="M0.5 0 V456.5" stroke="#111" stroke-width="1"/>
<rect x="0" y="0" width="520" height="1.2" fill="#4a4a4a"/><rect x="0" y="1.2" width="520" height="0.8" fill="#9a9a9a"/>
<rect x="518.4" y="0" width="1.6" height="458" fill="#4a4a4a"/><rect x="517.7" y="0" width="0.7" height="458" fill="#b0b0b0"/>
<rect x="0" y="456.2" width="520" height="1.8" fill="#555"/><rect x="0" y="455.6" width="520" height="0.6" fill="#aaa"/>
</svg></body></html>
